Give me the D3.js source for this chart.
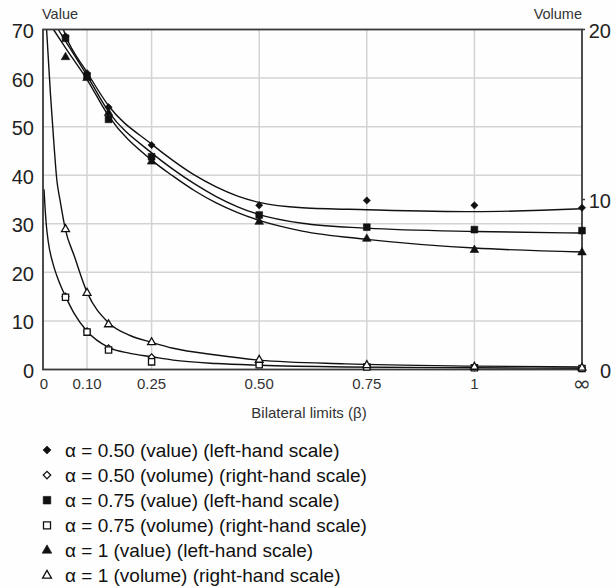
<!DOCTYPE html>
<html>
<head>
<meta charset="utf-8">
<script src="https://cdn.jsdelivr.net/npm/d3@7"></script>
<style>
  html, body { margin: 0; padding: 0; background: #ffffff; }
  svg { display: block; font-family: "Liberation Sans", Arial, Helvetica, sans-serif; }
</style>
</head>
<body>
<svg id="chart" width="615" height="588"></svg>
<script>
// ---------------- data ----------------
const betaValues = [0.05, 0.10, 0.15, 0.25, 0.50, 0.75, 1, Infinity];
const xTickValues = [0, 0.10, 0.25, 0.50, 0.75, 1, Infinity];
const xTickLabels = ["0", "0.10", "0.25", "0.50", "0.75", "1", "\u221E"];
const leftTicks = [0, 10, 20, 30, 40, 50, 60, 70];
const rightTicks = [0, 10, 20];

// observed points
const valueAlpha050 = [68.6, 61.0, 54.0, 46.2, 33.8, 34.8, 33.8, 33.3];
const valueAlpha075 = [68.2, 60.4, 51.5, 43.8, 31.8, 29.3, 28.8, 28.6];
const valueAlpha100 = [64.3, 60.0, 52.8, 42.8, 30.4, 26.9, 24.6, 24.1];
const volumeAlpha050 = [4.3, 2.25, 1.25, 0.72, 0.33, 0.20, 0.12, 0.08];
const volumeAlpha075 = [4.25, 2.2, 1.15, 0.45, 0.28, 0.15, 0.10, 0.06];
const volumeAlpha100 = [8.25, 4.5, 2.65, 1.6, 0.56, 0.25, 0.15, 0.10];

// fitted curves: [beta, y]
const fitValue050 = [[0.045,70],[0.05,68.8],[0.1,61.2],[0.15,54.3],[0.25,46.4],[0.3,43],[0.35,40],[0.4,37.6],[0.45,35.7],[0.5,34.4],[0.6,33.3],[0.75,32.9],[1,32.5],[1.25,33.1]];
const fitValue075 = [[0.033,70],[0.05,67.6],[0.1,60.5],[0.15,53.1],[0.25,44.6],[0.3,41.2],[0.35,38.2],[0.4,35.6],[0.45,33.5],[0.5,31.9],[0.6,30.1],[0.75,29.1],[1,28.4],[1.25,28.1]];
const fitValue100 = [[0.022,70],[0.05,66.2],[0.1,59.7],[0.15,52.2],[0.25,43.1],[0.3,39.8],[0.35,36.8],[0.4,34.3],[0.45,32.3],[0.5,30.7],[0.6,28.5],[0.75,26.8],[1,25],[1.25,24.2]];
const fitVolume100 = [[0.006,20],[0.015,16.2],[0.023,13.3],[0.03,11.1],[0.037,10],[0.05,8.2],[0.07,6.7],[0.1,4.55],[0.15,2.75],[0.2,2.0],[0.25,1.6],[0.3,1.25],[0.4,0.85],[0.5,0.55],[0.7,0.33],[1,0.2],[1.25,0.15]];
const fitVolume050 = [[0,10.6],[0.005,8.6],[0.01,7.5],[0.02,6.3],[0.03,5.5],[0.04,4.85],[0.05,4.3],[0.07,3.3],[0.1,2.25],[0.15,1.3],[0.2,0.95],[0.25,0.75],[0.3,0.55],[0.4,0.35],[0.5,0.25],[0.7,0.15],[1,0.1],[1.25,0.07]];

const legendLabels = [
  "\u03B1 = 0.50 (value) (left-hand scale)",
  "\u03B1 = 0.50 (volume) (right-hand scale)",
  "\u03B1 = 0.75 (value) (left-hand scale)",
  "\u03B1 = 0.75 (volume) (right-hand scale)",
  "\u03B1 = 1 (value) (left-hand scale)",
  "\u03B1 = 1 (volume) (right-hand scale)"
];

// ---------------- layout ----------------
const svg = d3.select("#chart");
const P = { left: 43, right: 582, top: 29.5, bottom: 369.5 };
const INF_POS = 1.25;
const bpos = b => (b === Infinity ? INF_POS : b);

const x = d3.scaleLinear().domain([0, INF_POS]).range([44, P.right]);
const yL = d3.scaleLinear().domain([0, 70]).range([P.bottom, P.top]);
const yR = d3.scaleLinear().domain([0, 20]).range([P.bottom, P.top]);

svg.append("rect").attr("width", 615).attr("height", 588).attr("fill", "#fefefe");

// grid
const grid = svg.append("g");
grid.selectAll("line.h").data(leftTicks.filter(t => t > 0 && t < 70)).join("line")
  .attr("x1", P.left).attr("x2", P.right)
  .attr("y1", d => yL(d)).attr("y2", d => yL(d))
  .attr("stroke", "#d3d3d3").attr("stroke-width", 1.5);
grid.selectAll("line.v").data(xTickValues.filter(t => t > 0 && t !== Infinity)).join("line")
  .attr("x1", d => x(d)).attr("x2", d => x(d))
  .attr("y1", P.top).attr("y2", P.bottom)
  .attr("stroke", "#d3d3d3").attr("stroke-width", 1.5);

// clip
svg.append("clipPath").attr("id", "clip").append("rect")
  .attr("x", P.left).attr("y", P.top).attr("width", P.right - P.left).attr("height", P.bottom - P.top);

const curves = svg.append("g").attr("clip-path", "url(#clip)");
const lineL = d3.line().x(d => x(d[0])).y(d => yL(d[1])).curve(d3.curveMonotoneX);
const lineR = d3.line().x(d => x(d[0])).y(d => yR(d[1])).curve(d3.curveMonotoneX);
[fitValue050, fitValue075, fitValue100].forEach(c => {
  curves.append("path").attr("d", lineL(c)).attr("fill", "none").attr("stroke", "#111").attr("stroke-width", 1.4);
});
[fitVolume100, fitVolume050].forEach(c => {
  curves.append("path").attr("d", lineR(c)).attr("fill", "none").attr("stroke", "#111").attr("stroke-width", 1.4);
});

// frame
svg.append("rect").attr("x", P.left).attr("y", P.top)
  .attr("width", P.right - P.left).attr("height", P.bottom - P.top)
  .attr("fill", "none").attr("stroke", "#3a3a3a").attr("stroke-width", 1.8);

// right ticks
svg.append("g").selectAll("line").data(rightTicks).join("line")
  .attr("x1", P.right).attr("x2", P.right + 3)
  .attr("y1", d => yR(d)).attr("y2", d => yR(d))
  .attr("stroke", "#3a3a3a").attr("stroke-width", 1.5);

// markers
const symbolPath = (type, size) => {
  if (type === "diamond" || type === "square") return d3.symbol(d3.symbolSquare, size)();
  return d3.symbol(d3.symbolTriangle, size)();
};
const series = [
  { vals: volumeAlpha050, scale: yR, type: "diamond", filled: false },
  { vals: volumeAlpha075, scale: yR, type: "square", filled: false },
  { vals: volumeAlpha100, scale: yR, type: "triangle", filled: false },
  { vals: valueAlpha050, scale: yL, type: "diamond", filled: true },
  { vals: valueAlpha075, scale: yL, type: "square", filled: true },
  { vals: valueAlpha100, scale: yL, type: "triangle", filled: true }
];
const sizes = { diamond: 26, square: 46, triangle: 32 };
function drawMarker(g, type, filled, cx, cy, k = 1) {
  const size = (filled ? sizes[type] : sizes[type] * 0.85) * k;
  const rot = type === "diamond" ? " rotate(45)" : "";
  g.append("path").attr("d", symbolPath(type, size))
    .attr("transform", `translate(${cx},${cy})${rot}`)
    .attr("fill", filled ? "#111" : "#fff")
    .attr("stroke", "#111").attr("stroke-width", filled ? 0.6 : 1.3);
}
const mk = svg.append("g");
series.forEach(s => {
  s.vals.forEach((v, i) => drawMarker(mk, s.type, s.filled, x(bpos(betaValues[i])), s.scale(v)));
});

// axis labels
const txt = svg.append("g").attr("fill", "#222");
txt.selectAll("text.l").data(leftTicks).join("text")
  .attr("x", 34).attr("y", d => yL(d) + 1.5)
  .attr("text-anchor", "end").attr("dominant-baseline", "central")
  .attr("font-size", 20).text(d => d);
txt.selectAll("text.r").data(rightTicks).join("text")
  .attr("x", 611).attr("y", d => yR(d) + 1.5)
  .attr("text-anchor", "end").attr("dominant-baseline", "central")
  .attr("font-size", 20).text(d => d);
txt.selectAll("text.x").data(xTickValues).join("text")
  .attr("x", d => x(bpos(d))).attr("y", d => d === Infinity ? 391 : 389)
  .attr("text-anchor", "middle")
  .attr("font-family", d => d === Infinity ? "DejaVu Sans, sans-serif" : null)
  .attr("font-size", d => d === Infinity ? 22 : 15).attr("fill", "#333")
  .text((d, i) => xTickLabels[i]);
txt.append("text").attr("x", 42).attr("y", 19).attr("font-size", 14.5).attr("fill", "#333").text("Value");
txt.append("text").attr("x", P.right).attr("y", 19).attr("text-anchor", "end").attr("font-size", 14.5).attr("fill", "#333").text("Volume");
txt.append("text").attr("x", 309).attr("y", 417.5).attr("text-anchor", "middle").attr("font-size", 15).attr("fill", "#333").text("Bilateral limits (\u03B2)");

// legend
const legendTypes = [["diamond", true], ["diamond", false], ["square", true], ["square", false], ["triangle", true], ["triangle", false]];
const lg = svg.append("g");
legendLabels.forEach((lab, i) => {
  const base = 456.5 + i * 25.1;
  const [type, filled] = legendTypes[i];
  drawMarker(lg, type, filled, 47, base - 6.5, 1.25);
  lg.append("text").attr("x", 65).attr("y", base).attr("font-size", 19).attr("fill", "#111").text(lab);
});
</script>
</body>
</html>
